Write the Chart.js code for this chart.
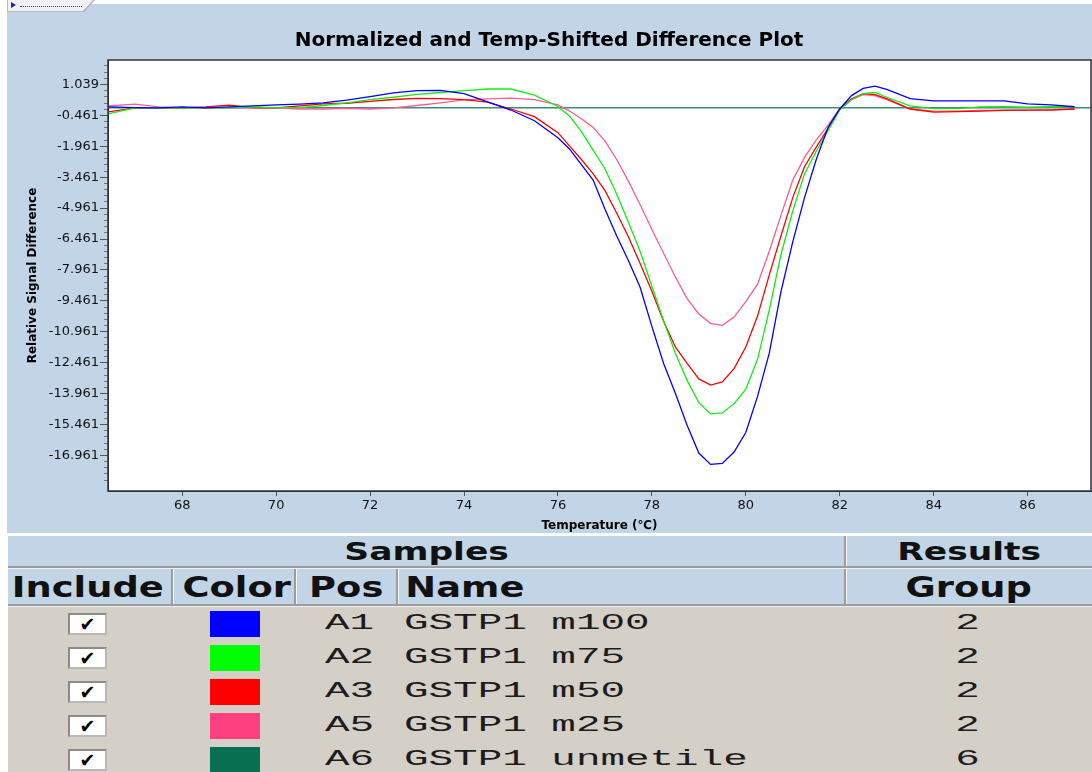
<!DOCTYPE html>
<html>
<head>
<meta charset="utf-8">
<script src="https://cdn.jsdelivr.net/npm/chart.js@4.4.0/dist/chart.umd.min.js"></script>
<style>
  body { margin: 0; width: 1092px; height: 772px; overflow: hidden; position: relative; background: #fff; font-family: "DejaVu Sans", sans-serif; }
  #tab { position: absolute; left: 7px; top: 0; width: 88px; height: 12px; background: #b8b8c4; z-index: 2;
         clip-path: polygon(0 0, 100% 0, 88% 100%, 0 100%); }
  #tab .inner { position: absolute; left: 1px; top: 0; width: 85px; height: 11px; background: #f2f2f6;
         clip-path: polygon(0 0, 100% 0, 88% 100%, 0 100%); }
  #tab .arrow { position: absolute; left: 3px; top: 2px; width: 0; height: 0; border-left: 5px solid #1a2a9a;
         border-top: 3px solid transparent; border-bottom: 3px solid transparent; }
  #tab .dots { position: absolute; left: 12px; top: 6px; width: 62px; border-top: 1px dotted #3040a0; }
  #panel { position: absolute; left: 7px; top: 4px; width: 1085px; height: 529px; background: #c1d5e7; }
  .hdr { position: absolute; left: 8px; width: 1084px; background: #c1d5e7; }
  .hline { position: absolute; left: 8px; width: 1084px; height: 2px; background: #9c9c9c; border-bottom: 1px solid #eef2f6; }
  .vsep { position: absolute; width: 2px; background: #9c9c9c; border-right: 1px solid #f4f6f8; }
  .htxt { position: absolute; font-weight: bold; color: #111; white-space: nowrap; transform-origin: center center; }
  #rows { position: absolute; left: 8px; top: 607px; width: 1084px; height: 165px; background: #d4d0c8; }
  .cell { position: absolute; font-family: "Liberation Mono", monospace; font-size: 22px; color: #1c1c1c; white-space: nowrap; }
  .chk { position: absolute; left: 60px; width: 35px; height: 18px; background: #fff; border: 2px solid #8a8a8a;
         border-right-color: #b8b8b8; border-bottom-color: #b8b8b8; text-align: center; font-size: 19px; line-height: 18px; color: #000; }
  .sw { position: absolute; left: 202px; width: 50px; height: 26px; }
</style>
</head>
<body>
<div id="tab"><div class="inner"><div class="arrow"></div><div class="dots"></div></div></div>
<div id="panel"><canvas id="diffChart"></canvas></div>

<div class="hdr" style="top:536px;height:30px;"></div>
<div class="hline" style="top:566px;"></div>
<div class="hdr" style="top:569px;height:35px;"></div>
<div class="hline" style="top:604px;"></div>
<div class="vsep" style="left:844px;top:536px;height:30px;"></div>
<div class="vsep" style="left:171px;top:569px;height:35px;"></div>
<div class="vsep" style="left:294px;top:569px;height:35px;"></div>
<div class="vsep" style="left:396px;top:569px;height:35px;"></div>
<div class="vsep" style="left:844px;top:569px;height:35px;"></div>
<div id="headers"></div>
<div id="rows"></div>

<script>
// temperatures (°C) where the curves were read
const temps = [66.4, 67, 67.5, 68, 68.5, 69, 69.5, 70, 70.5, 71, 71.5, 72, 72.5, 73, 73.5, 74, 74.5, 75, 75.5, 76,
  76.25, 76.5, 76.75, 77, 77.25, 77.5, 77.75, 78, 78.25, 78.5, 78.75, 79, 79.25, 79.5, 79.75, 80,
  80.25, 80.5, 80.75, 81, 81.25, 81.5, 81.75, 82, 82.25, 82.5, 82.75, 83,
  83.5, 84, 84.5, 85, 85.5, 86, 86.5, 87];

const m100 = [-0.05, -0.08, -0.1, -0.05, -0.1, -0.05, 0.0, 0.05, 0.09, 0.15, 0.28, 0.45, 0.63, 0.74, 0.75, 0.6, 0.2, -0.2, -0.72, -1.55,
  -2.1, -2.85, -3.6, -5.0, -6.3, -7.5, -8.8, -10.7, -12.5, -13.95, -15.5, -16.85, -17.4, -17.35, -16.8, -15.85,
  -14.1, -12.0, -9.0, -6.6, -4.45, -2.6, -1.05, -0.15, 0.5, 0.85, 0.96, 0.8,
  0.35, 0.24, 0.24, 0.24, 0.24, 0.1, 0.05, -0.04];

const m75 = [-0.4, -0.1, -0.08, -0.1, -0.08, -0.1, -0.05, -0.08, -0.08, 0.02, 0.15, 0.3, 0.42, 0.56, 0.65, 0.74, 0.82, 0.82, 0.52, -0.03,
  -0.5, -1.25, -2.15, -3.05, -4.28, -5.65, -7.07, -8.75, -10.42, -12.0, -13.32, -14.4, -14.95, -14.9, -14.45, -13.75,
  -12.3, -9.9, -7.2, -5.1, -3.3, -2.2, -1.2, -0.2, 0.3, 0.6, 0.65, 0.42,
  0.0, -0.13, -0.13, -0.05, -0.04, -0.06, -0.04, -0.05];

const m50 = [-0.3, -0.1, -0.08, -0.1, -0.05, 0.04, -0.08, -0.1, 0.0, 0.1, 0.13, 0.22, 0.31, 0.37, 0.35, 0.3, 0.18, -0.15, -0.52, -1.3,
  -1.95, -2.6, -3.3, -4.1, -5.2, -6.35, -7.65, -9.0, -10.45, -11.7, -12.5, -13.25, -13.55, -13.4, -12.75, -11.7,
  -10.2, -8.2, -6.3, -4.45, -2.95, -2.0, -1.1, -0.15, 0.35, 0.6, 0.55, 0.35,
  -0.15, -0.3, -0.28, -0.25, -0.22, -0.2, -0.2, -0.15];

const m25 = [0.0, 0.09, -0.05, -0.1, -0.1, -0.08, -0.1, -0.1, -0.15, -0.15, -0.12, -0.15, -0.1, 0.02, 0.15, 0.29, 0.34, 0.38, 0.3, 0.05,
  -0.25, -0.62, -1.05, -1.7, -2.6, -3.65, -4.8, -6.0, -7.15, -8.3, -9.35, -10.1, -10.55, -10.65, -10.25, -9.5,
  -8.65, -7.05, -5.3, -3.6, -2.5, -1.65, -0.95, -0.12, 0.3, 0.55, 0.5, 0.3,
  -0.15, -0.25, -0.25, -0.22, -0.2, -0.2, -0.18, -0.15];

// unmethylated reference is the baseline
const unmetTemps = [66.4, 70, 75, 80, 85, 87.4];
const unmet = [-0.09, -0.09, -0.09, -0.09, -0.09, -0.09];

const yTicks = [1.039, -0.461, -1.961, -3.461, -4.961, -6.461, -7.961, -9.461, -10.961, -12.461, -13.961, -15.461, -16.961];
const xTicks = [68, 70, 72, 74, 76, 78, 80, 82, 84, 86];

const samplePos = ['A1', 'A2', 'A3', 'A5', 'A6'];
const sampleNames = ['GSTP1 m100', 'GSTP1 m75', 'GSTP1 m50', 'GSTP1 m25', 'GSTP1 unmetile'];
const sampleColors = ['#0000ff', '#00ff00', '#ff0000', '#ff4080', '#077050'];
const lineColors = ['#0000ff', '#11ee11', '#ff0000', '#ff5c92', '#3f8d70'];
const sampleGroups = ['2', '2', '2', '2', '6'];

function pts(xs, ys) {
    return xs.map((x, i) => ({ x: x, y: ys[i] }));
}

const series = [pts(temps, m100), pts(temps, m75), pts(temps, m50), pts(temps, m25), pts(unmetTemps, unmet)];

Chart.defaults.font.family = '"DejaVu Sans", sans-serif';
Chart.defaults.color = '#111';

const plotFrame = {
    id: 'plotFrame',
    beforeDraw(chart) {
        const a = chart.chartArea;
        const ctx = chart.ctx;
        ctx.save();
        ctx.fillStyle = '#ffffff';
        ctx.fillRect(a.left, a.top, a.right - a.left, a.bottom - a.top);
        ctx.restore();
    },
    afterDraw(chart) {
        const a = chart.chartArea;
        const ctx = chart.ctx;
        ctx.save();
        ctx.strokeStyle = '#333';
        ctx.lineWidth = 1.5;
        ctx.strokeRect(a.left, a.top, a.right - a.left, a.bottom - a.top);
        ctx.restore();
    }
};

const ctx = document.getElementById('diffChart').getContext('2d');
const diffChart = new Chart(ctx, {
    type: 'line',
    data: {
        datasets: series.map((d, i) => ({
            label: samplePos[i] + ' ' + sampleNames[i],
            data: d,
            borderColor: lineColors[i],
            borderWidth: i === 4 ? 1.6 : 1.3,
            pointRadius: 0,
            tension: 0,
            fill: false
        }))
    },
    options: {
        responsive: true,
        maintainAspectRatio: false,
        animation: false,
        layout: { padding: { left: 0, right: 1, top: 0, bottom: 0 } },
        plugins: {
            legend: { display: false },
            tooltip: { enabled: false },
            title: {
                display: true,
                text: 'Normalized and Temp-Shifted Difference Plot',
                color: '#000',
                font: { size: 20, weight: 'bold' },
                padding: { top: 25, bottom: 7 }
            }
        },
        scales: {
            x: {
                type: 'linear',
                min: 66.42,
                max: 87.35,
                afterBuildTicks: (scale) => { scale.ticks = xTicks.map(v => ({ value: v })); },
                afterFit: (scale) => { scale.height = 42; },
                ticks: { font: { size: 13 }, padding: 2, maxRotation: 0, callback: (v) => String(v) },
                grid: { drawOnChartArea: false, tickLength: 5, color: '#555' },
                border: { display: true, color: '#222', width: 1 },
                title: { display: true, text: 'Temperature (℃)', font: { size: 12, weight: 'bold' }, color: '#000', padding: { top: 0, bottom: 0 } }
            },
            y: {
                type: 'linear',
                position: 'left',
                weight: 1,
                min: -18.69,
                max: 2.228,
                afterBuildTicks: (scale) => { scale.ticks = yTicks.map(v => ({ value: v })); },
                afterFit: (scale) => { scale.width = 101; },
                ticks: { font: { size: 13 }, padding: 1, callback: (v) => v.toFixed(3) },
                grid: { drawOnChartArea: false, tickLength: 8, color: '#555' },
                border: { display: true, color: '#222', width: 1 },
                title: { display: true, text: 'Relative Signal Difference', font: { size: 12, weight: 'bold' }, color: '#000', padding: { top: 19, bottom: 0 } }
            },
            yMinor: {
                type: 'linear',
                position: 'left',
                weight: 0,
                min: -18.69,
                max: 2.228,
                afterBuildTicks: (scale) => {
                    const t = [];
                    yTicks.forEach(v => { for (let k = 1; k < 5; k++) t.push({ value: v - 0.3 * k }); });
                    t.push({ value: yTicks[0] + 0.3 }, { value: yTicks[0] + 0.6 }, { value: yTicks[0] + 0.9 });
                    scale.ticks = t;
                },
                afterFit: (scale) => { scale.width = 0; },
                ticks: { display: false },
                grid: { drawOnChartArea: false, tickLength: 4, color: '#777' },
                border: { display: false }
            }
        }
    },
    plugins: [plotFrame]
});

// table headers
const headers = document.getElementById('headers');
function addHeader(text, cx, cy, size, sx) {
    const el = document.createElement('div');
    el.className = 'htxt';
    el.textContent = text;
    el.style.fontSize = size + 'px';
    headers.appendChild(el);
    const w = el.offsetWidth, h = el.offsetHeight;
    el.style.left = (cx - w / 2) + 'px';
    el.style.top = (cy - h / 2) + 'px';
    el.style.transform = 'scaleX(' + sx + ')';
}
addHeader('Samples', 426, 551, 25, 1.38);
addHeader('Results', 969, 551, 25, 1.38);
addHeader('Include', 88, 587, 29, 1.27);
addHeader('Color', 236, 587, 29, 1.27);
addHeader('Pos', 346, 587, 29, 1.27);
addHeader('Name', 405 + 60, 587, 29, 1.27);
addHeader('Group', 968, 587, 29, 1.27);

// sample rows
const rows = document.getElementById('rows');
samplePos.forEach((pos, i) => {
    const top = i * 34;
    const chk = document.createElement('div');
    chk.className = 'chk';
    chk.style.top = (top + 6) + 'px';
    chk.textContent = '✔';
    rows.appendChild(chk);

    const sw = document.createElement('div');
    sw.className = 'sw';
    sw.style.top = (top + 4) + 'px';
    sw.style.background = sampleColors[i];
    rows.appendChild(sw);

    [[pos, 317], [sampleNames[i], 396]].forEach(([txt, left]) => {
        const c = document.createElement('div');
        c.className = 'cell';
        c.textContent = txt;
        c.style.left = left + 'px';
        c.style.top = (top + 4) + 'px';
        c.style.transformOrigin = 'left center';
        c.style.transform = 'scaleX(1.86)';
        rows.appendChild(c);
    });

    const g = document.createElement('div');
    g.className = 'cell';
    g.textContent = sampleGroups[i];
    rows.appendChild(g);
    g.style.left = (967 - 8 - g.offsetWidth / 2) + 'px';
    g.style.top = (top + 4) + 'px';
    g.style.transform = 'scaleX(1.86)';
});
</script>
</body>
</html>
